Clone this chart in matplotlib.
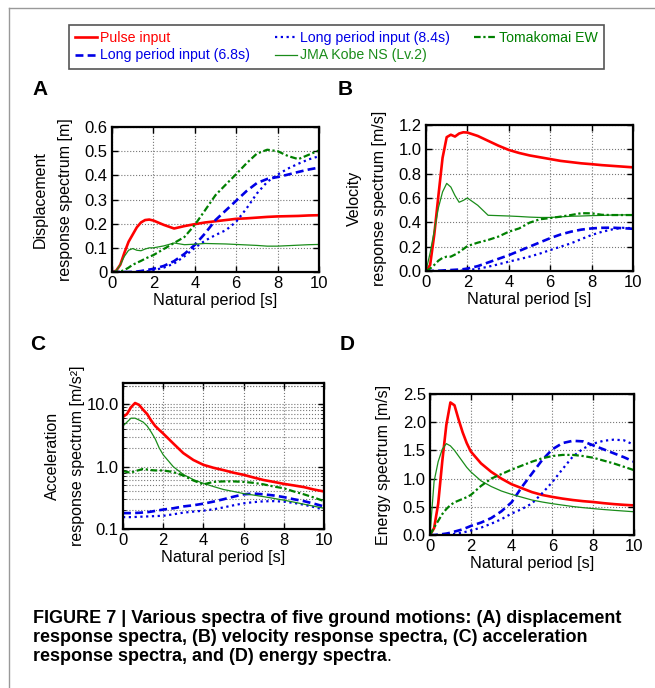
import matplotlib
matplotlib.use("Agg")
import matplotlib.pyplot as plt
from matplotlib.lines import Line2D
from matplotlib.ticker import FixedLocator, NullFormatter

plt.rcParams["font.family"] = ["Liberation Sans", "DejaVu Sans"]

# natural period [s], shared by all curves
period = [0, 0.2, 0.4, 0.6, 0.8, 1.0, 1.2, 1.4, 1.6, 1.8, 2.0, 2.5, 3.0, 3.5,
          4.0, 4.5, 5.0, 5.5, 6.0, 6.5, 7.0, 7.5, 8.0, 8.5, 9.0, 9.5, 10.0]

series_names = ["Pulse input", "Long period input (6.8s)", "Long period input (8.4s)",
                "JMA Kobe NS (Lv.2)", "Tomakomai EW"]

# (A) displacement response spectra [m]
disp_pulse = [0, 0.005, 0.03, 0.08, 0.125, 0.155, 0.185, 0.205, 0.215, 0.217, 0.213, 0.195, 0.18,
              0.19, 0.198, 0.205, 0.21, 0.215, 0.22, 0.222, 0.225, 0.228, 0.23, 0.231, 0.232, 0.234, 0.235]
disp_lp68 = [0, 0, 0, 0, 0, 0, 0.002, 0.004, 0.007, 0.01, 0.013, 0.025, 0.045, 0.075,
             0.112, 0.16, 0.215, 0.255, 0.295, 0.335, 0.368, 0.385, 0.393, 0.403, 0.414, 0.424, 0.432]
disp_lp84 = [0, 0, 0, 0, 0, 0, 0, 0, 0.002, 0.004, 0.007, 0.018, 0.035, 0.065,
             0.1, 0.13, 0.153, 0.173, 0.208, 0.263, 0.325, 0.373, 0.403, 0.428, 0.448, 0.466, 0.479]
disp_kobe = [0, 0.005, 0.03, 0.065, 0.09, 0.097, 0.09, 0.088, 0.095, 0.1, 0.1, 0.108, 0.12, 0.113,
             0.115, 0.118, 0.117, 0.116, 0.114, 0.112, 0.11, 0.107, 0.107, 0.109, 0.111, 0.113, 0.114]
disp_toma = [0, 0, 0.002, 0.008, 0.018, 0.03, 0.038, 0.046, 0.055, 0.063, 0.07, 0.095, 0.12, 0.145,
             0.195, 0.256, 0.318, 0.362, 0.405, 0.45, 0.49, 0.506, 0.5, 0.48, 0.467, 0.485, 0.503]

# (B) velocity response spectra [m/s]
vel_pulse = [0, 0.05, 0.3, 0.62, 0.93, 1.1, 1.12, 1.105, 1.13, 1.14, 1.138, 1.11, 1.07, 1.03,
             0.995, 0.97, 0.95, 0.935, 0.92, 0.905, 0.895, 0.885, 0.878, 0.87, 0.864, 0.858, 0.852]
vel_lp68 = [0, 0, 0.001, 0.002, 0.004, 0.006, 0.008, 0.01, 0.012, 0.015, 0.02, 0.04, 0.07, 0.1,
            0.13, 0.165, 0.2, 0.235, 0.27, 0.3, 0.323, 0.34, 0.35, 0.355, 0.356, 0.352, 0.347]
vel_lp84 = [0, 0, 0, 0, 0, 0, 0, 0.001, 0.002, 0.004, 0.007, 0.018, 0.035, 0.055,
            0.077, 0.097, 0.118, 0.143, 0.172, 0.2, 0.227, 0.262, 0.296, 0.322, 0.342, 0.355, 0.352]
vel_kobe = [0, 0.15, 0.33, 0.52, 0.65, 0.72, 0.69, 0.62, 0.565, 0.58, 0.6, 0.54, 0.458, 0.455,
            0.452, 0.448, 0.443, 0.44, 0.44, 0.445, 0.45, 0.452, 0.455, 0.457, 0.46, 0.461, 0.462]
vel_toma = [0, 0.02, 0.05, 0.085, 0.108, 0.118, 0.118, 0.135, 0.155, 0.18, 0.205, 0.233, 0.255, 0.283,
            0.323, 0.35, 0.397, 0.425, 0.435, 0.447, 0.46, 0.475, 0.474, 0.462, 0.46, 0.46, 0.46]

# (C) acceleration response spectra [m/s2]
acc_pulse = [6.3, 7.0, 9.0, 10.5, 9.8, 8.2, 7.0, 5.5, 4.5, 3.9, 3.4, 2.36, 1.65, 1.28,
             1.07, 0.96, 0.88, 0.8, 0.74, 0.67, 0.61, 0.57, 0.53, 0.5, 0.47, 0.43, 0.4]
acc_lp68 = [0.18, 0.18, 0.18, 0.181, 0.182, 0.184, 0.186, 0.19, 0.195, 0.2, 0.205, 0.215, 0.23, 0.24,
            0.255, 0.275, 0.3, 0.33, 0.36, 0.37, 0.36, 0.345, 0.325, 0.3, 0.28, 0.255, 0.23]
acc_lp84 = [0.155, 0.155, 0.155, 0.156, 0.157, 0.158, 0.159, 0.16, 0.161, 0.162, 0.163, 0.172, 0.183, 0.19,
            0.197, 0.207, 0.222, 0.24, 0.258, 0.27, 0.278, 0.28, 0.275, 0.262, 0.245, 0.225, 0.205]
acc_kobe = [4.5, 5.2, 6.0, 6.0, 5.6, 5.2, 4.5, 3.6, 2.8, 2.0, 1.55, 1.0, 0.75, 0.62,
            0.54, 0.48, 0.43, 0.4, 0.37, 0.35, 0.33, 0.31, 0.29, 0.27, 0.25, 0.232, 0.215]
acc_toma = [0.85, 0.82, 0.8, 0.85, 0.88, 0.92, 0.9, 0.88, 0.87, 0.87, 0.87, 0.82, 0.72, 0.6,
            0.52, 0.57, 0.58, 0.58, 0.57, 0.55, 0.52, 0.48, 0.45, 0.4, 0.36, 0.32, 0.28]

# (D) energy spectra [m/s]
en_pulse = [0, 0.12, 0.55, 1.3, 1.95, 2.35, 2.3, 2.05, 1.82, 1.63, 1.48, 1.27, 1.12, 1.0,
            0.9, 0.83, 0.76, 0.71, 0.675, 0.645, 0.62, 0.6, 0.585, 0.565, 0.548, 0.535, 0.525]
en_lp68 = [0, 0, 0.005, 0.015, 0.025, 0.04, 0.06, 0.08, 0.1, 0.13, 0.16, 0.22, 0.3, 0.42,
           0.58, 0.85, 1.09, 1.33, 1.52, 1.63, 1.67, 1.66, 1.59, 1.52, 1.45, 1.38, 1.3]
en_lp84 = [0, 0, 0, 0, 0.005, 0.01, 0.02, 0.03, 0.045, 0.06, 0.08, 0.13, 0.2, 0.28,
           0.38, 0.46, 0.56, 0.74, 0.94, 1.17, 1.39, 1.53, 1.62, 1.67, 1.69, 1.68, 1.6]
en_kobe = [0, 0.95, 1.3, 1.52, 1.62, 1.58, 1.5, 1.4, 1.3, 1.2, 1.12, 0.96, 0.86, 0.78,
           0.72, 0.67, 0.62, 0.585, 0.555, 0.53, 0.505, 0.485, 0.468, 0.452, 0.438, 0.425, 0.412]
en_toma = [0, 0.13, 0.25, 0.37, 0.46, 0.53, 0.58, 0.61, 0.64, 0.67, 0.71, 0.87, 1.0, 1.08,
           1.16, 1.23, 1.3, 1.36, 1.4, 1.42, 1.42, 1.4, 1.37, 1.32, 1.27, 1.21, 1.15]

styles = [
    dict(color="#ff0000", lw=1.9, ls="-"),
    dict(color="#0000e6", lw=1.9, ls=(0, (3, 1.6))),
    dict(color="#0000e6", lw=1.6, ls=(0, (1, 1.6))),
    dict(color="#1a8c1a", lw=0.9, ls="-"),
    dict(color="#008000", lw=1.6, ls=(0, (3, 1.2, 1, 1.2))),
]

W, H = 655, 688
fig = plt.figure(figsize=(W / 100, H / 100), dpi=100)


def px_axes(left, top, right, bottom):
    return fig.add_axes([left / W, 1 - bottom / H, (right - left) / W, (bottom - top) / H])


def style_axes(ax, ylabel):
    for s in ax.spines.values():
        s.set_linewidth(1.6)
    ax.set_xlim(0, 10)
    ax.set_xticks([0, 2, 4, 6, 8, 10])
    ax.tick_params(direction="in", top=True, right=True, length=4, width=1,
                   labelsize=12, pad=3)
    ax.grid(True, which="major", color="#777777", ls=":", lw=0.8)
    ax.set_axisbelow(True)
    ax.set_xlabel("Natural period [s]", fontsize=11.7, labelpad=1.5)
    ax.set_ylabel(ylabel, fontsize=11.5, linespacing=1.85)
    ax.yaxis.set_label_coords(-0.19, 0.5)


panels = [
    ((112, 127, 319, 272), [disp_pulse, disp_lp68, disp_lp84, disp_kobe, disp_toma],
     "Displacement\nresponse spectrum [m]"),
    ((426, 125, 633, 271), [vel_pulse, vel_lp68, vel_lp84, vel_kobe, vel_toma],
     "Velocity\nresponse spectrum [m/s]"),
    ((123, 383, 324, 529), [acc_pulse, acc_lp68, acc_lp84, acc_kobe, acc_toma],
     "Acceleration\nresponse spectrum [m/s²]"),
    ((430, 394, 634, 535), [en_pulse, en_lp68, en_lp84, en_kobe, en_toma],
     "Energy spectrum [m/s]"),
]

axes = []
handles = []
for i, (box, data, ylabel) in enumerate(panels):
    ax = px_axes(*box)
    for name, vals, st in zip(series_names, data, styles):
        ln, = ax.plot(period, vals, label=name, **st)
        if i == 0:
            handles.append(ln)
    style_axes(ax, ylabel)
    axes.append(ax)

axA, axB, axC, axD = axes
axA.set_ylim(0, 0.6)
axA.set_yticks([0, 0.1, 0.2, 0.3, 0.4, 0.5, 0.6])
axA.set_yticklabels(["0", "0.1", "0.2", "0.3", "0.4", "0.5", "0.6"])

axB.set_ylim(0, 1.2)
axB.set_yticks([0, 0.2, 0.4, 0.6, 0.8, 1.0, 1.2])
axB.set_yticklabels(["0.0", "0.2", "0.4", "0.6", "0.8", "1.0", "1.2"])

axC.set_yscale("log")
axC.set_ylim(0.1, 22)
axC.yaxis.set_major_locator(FixedLocator([0.1, 1, 10]))
axC.set_yticklabels(["0.1", "1.0", "10.0"])
minor = [k * 10.0 ** e for e in (-1, 0, 1) for k in range(2, 10)] + [20]
axC.yaxis.set_minor_locator(FixedLocator(minor))
axC.yaxis.set_minor_formatter(NullFormatter())
axC.tick_params(which="minor", direction="in", right=True, length=2)
axC.grid(True, which="minor", axis="y", color="#777777", ls=":", lw=0.8)

axD.set_ylim(0, 2.5)
axD.set_yticks([0, 0.5, 1.0, 1.5, 2.0, 2.5])
axD.set_yticklabels(["0.0", "0.5", "1.0", "1.5", "2.0", "2.5"])

# legend across the top
leg = fig.legend(handles, series_names,
                 loc="upper left", bbox_to_anchor=(69 / W, 1 - 25 / H), ncol=3,
                 frameon=True, fancybox=False, edgecolor="#555555", framealpha=1,
                 borderaxespad=0, fontsize=10.2, handlelength=1.55, handletextpad=0.2,
                 columnspacing=1.75, labelspacing=0.22, borderpad=0.45, labelcolor="linecolor")
leg.get_frame().set_linewidth(1.2)

# panel letters
for letter, x, y in [("A", 32, 95), ("B", 338, 95), ("C", 30, 350), ("D", 340, 350)]:
    fig.text(x / W, 1 - y / H, letter, fontsize=15, fontweight="bold", va="baseline")

# outer frame (top and left edges)
fig.add_artist(Line2D([9 / W, 1], [1 - 8 / H, 1 - 8 / H], transform=fig.transFigure,
                      color="#999999", lw=1))
fig.add_artist(Line2D([9 / W, 9 / W], [0, 1 - 8 / H], transform=fig.transFigure,
                      color="#999999", lw=1))

caption = [
    "FIGURE 7 | Various spectra of five ground motions: (A) displacement",
    "response spectra, (B) velocity response spectra, (C) acceleration",
    "response spectra, and (D) energy spectra",
]
last = None
for line, y in zip(caption, [623, 642, 661]):
    last = fig.text(33 / W, 1 - y / H, line, fontsize=13, fontweight="bold", va="baseline")

# closing full stop is set in regular weight
fig.canvas.draw()
end_x = last.get_window_extent().x1
fig.text(end_x / W, 1 - 661 / H, ".", fontsize=13, va="baseline")

fig.savefig("out.png", dpi=100)
